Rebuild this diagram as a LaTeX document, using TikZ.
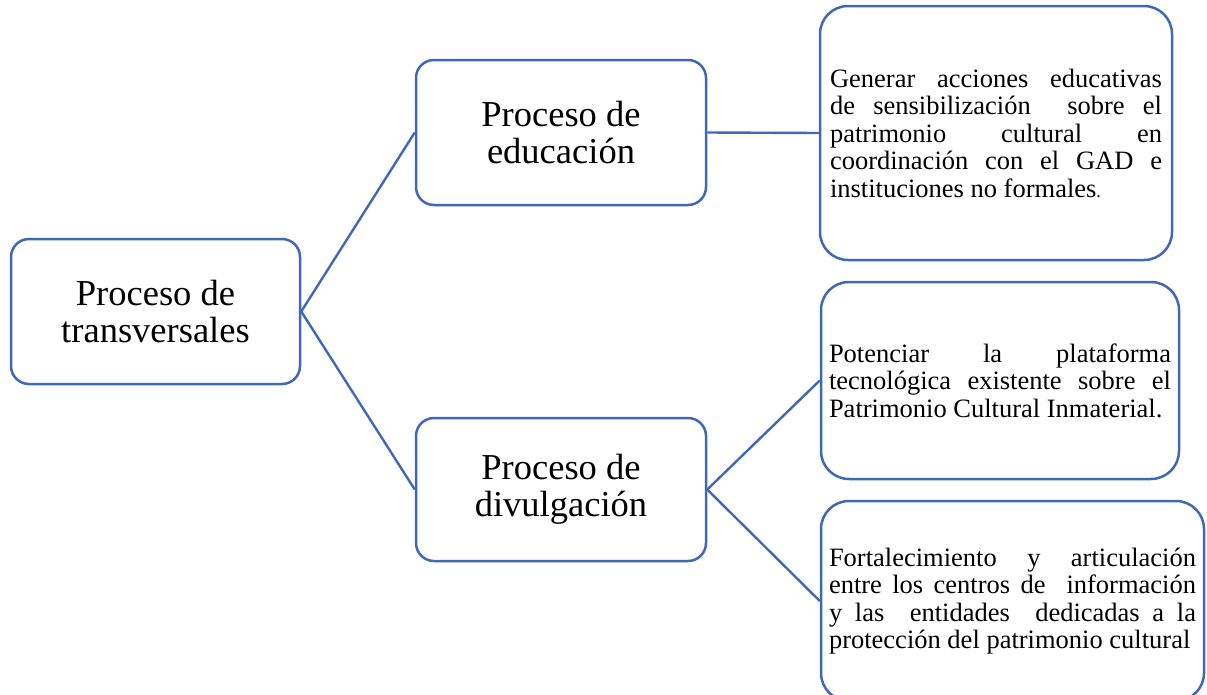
\documentclass[tikz,border=0pt]{standalone}
\usepackage{fontspec}
\setmainfont{Liberation Serif}
\hbadness=10000
\hfuzz=4pt
\definecolor{lineblue}{HTML}{4068B8}
\begin{document}
\begin{tikzpicture}[x=1pt,y=-1pt,
  box/.style={draw=lineblue, line width=2.5pt, fill=white, rectangle},
  big/.style={box, rounded corners=18pt, font=\fontsize{36.5}{37.5}\selectfont, align=center},
  small/.style={box, rounded corners=28pt, font=\fontsize{26.5}{27.5}\selectfont, align=justify, inner ysep=0pt},
  conn/.style={draw=lineblue, line width=2.4pt}]
\useasboundingbox (0,0) rectangle (1207,694);
\clip (0,0) rectangle (1207,694);
\fill[white] (0,0) rectangle (1207,694);
\node[big, minimum width=289pt, minimum height=145pt] (root) at (155.5,311.5) {Proceso de\\transversales};
\node[big, minimum width=290pt, minimum height=145pt] (edu) at (561,132.5) {Proceso de\\educación};
\node[big, minimum width=290pt, minimum height=143pt] (div) at (561,489.5) {Proceso de\\divulgación};
\node[small, minimum width=352pt, minimum height=254pt, text width=332pt, inner xsep=10pt] (b1) at (996,133)
 {Generar acciones educativas\linebreak de sensibilización\ \ sobre el\linebreak patrimonio cultural en\linebreak coordinación con el GAD e\linebreak instituciones no formales{\fontsize{18}{18}\selectfont.}};
\node[small, minimum width=358pt, minimum height=197pt, text width=342pt, inner xsep=8pt] (b2) at (1000,380.5)
 {Potenciar la plataforma\linebreak tecnológica existente sobre el\linebreak Patrimonio Cultural Inmaterial.};
\node[small, minimum width=383pt, minimum height=200pt, text width=367pt, inner xsep=8pt] (b3) at (1012.5,601)
 {Fortalecimiento y articulación\linebreak entre los centros de\ \ información\linebreak y las\ \ entidades\ \ dedicadas a la\linebreak protección del patrimonio cultural};
\draw[conn] (root.east) -- (edu.west);
\draw[conn] (root.east) -- (div.west);
\draw[conn] (edu.east) -- (b1.west);
\draw[conn] (div.east) -- (b2.west);
\draw[conn] (div.east) -- (b3.west);
\end{tikzpicture}
\end{document}
